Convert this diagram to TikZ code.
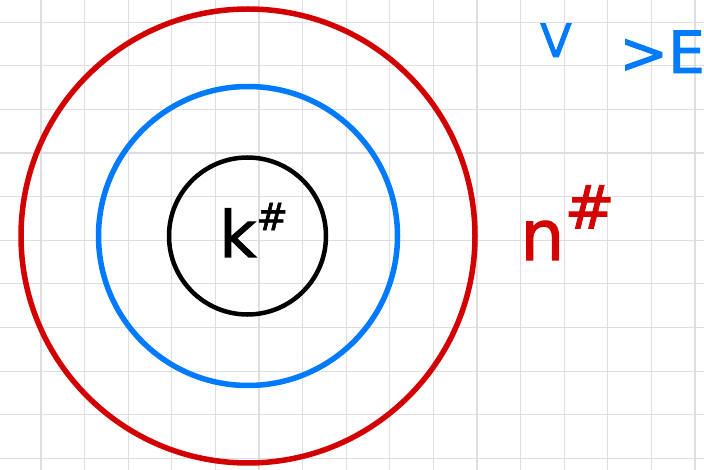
\documentclass[tikz,border=0pt]{standalone}
\usepackage{fontspec}
\newfontfamily\handfont[FakeBold=1.6]{DejaVu Sans}
\usetikzlibrary{positioning}
\definecolor{inkred}{RGB}{210,0,0}
\definecolor{inkblue}{RGB}{0,122,255}
\definecolor{gridgray}{RGB}{222,222,222}
\newcommand{\handsize}[1]{\fontsize{#1}{#1}\selectfont}

\begin{document}
\begin{tikzpicture}[x=1pt, y=-1pt,
  ring/.style={circle, draw=#1, line width=5.5pt, inner sep=0pt},
  hand/.style={font=\handfont, inner sep=0pt, text=#1},
]
\useasboundingbox[fill=white] (0,0) rectangle (704,470);

% paper grid
\foreach \x in {41,84.6,...,700} {\draw[gridgray, line width=1.2pt] (\x,0) -- (\x,470);}
\foreach \y in {22.3,65.9,...,470} {\draw[gridgray, line width=1.2pt] (0,\y) -- (704,\y);}

% three nested balls
\node[ring=inkred, minimum size=454pt] (outer) at (248,236) {};
\node[ring=inkblue, minimum size=299pt] (middle) at (248,236) {};
\node[ring=black, line width=4.5pt, minimum size=157pt] (inner) at (247.5,236) {};

% labels
\node[hand=black, anchor=base west] (klab) at (219,257) {\handsize{64}k\raisebox{0.42em}{\handsize{38}\#}};
\node[hand=inkred, anchor=base west] (rlab) at (520,260) {\handsize{70}n\raisebox{0.45em}{\handsize{60}\#}};
\node[hand=inkblue, anchor=base west] (vlab) at (540,57) {\handsize{46}V};
\node[hand=inkblue, anchor=base east] (elab) at (705,73) {\handsize{58}>E};
\end{tikzpicture}
\end{document}
